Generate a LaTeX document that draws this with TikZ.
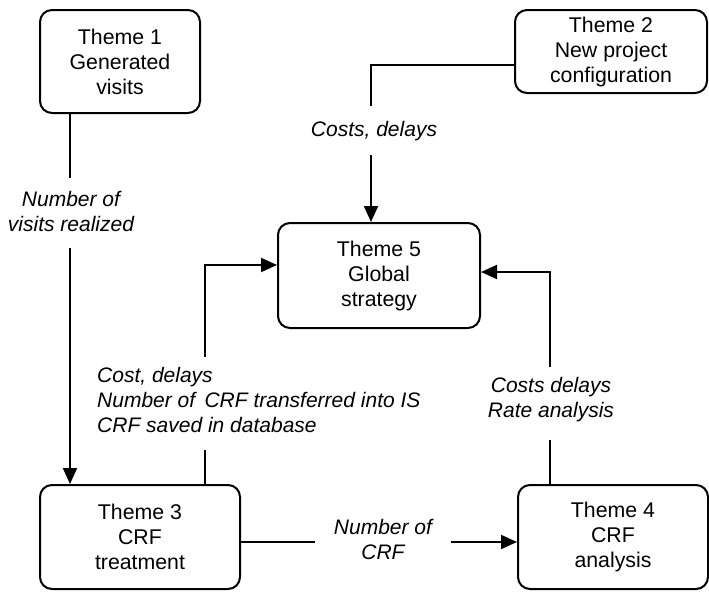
\documentclass[tikz,border=0pt]{standalone}
\usepackage{fontspec}
\setmainfont{Liberation Sans}
\usetikzlibrary{arrows.meta,calc}
\tikzset{
  theme/.style={draw, line width=2pt, rounded corners=12pt, fill=white,
    align=center, inner sep=0pt, font=\fontsize{21.3}{25}\selectfont},
  flow/.style={line width=2pt},
  flowarrow/.style={flow, -{Triangle[length=16pt,width=14pt]}},
  lbl/.style={align=center, inner sep=0pt, font=\fontsize{21}{25}\selectfont\itshape}
}
\begin{document}
\begin{tikzpicture}[x=1pt,y=-1pt]
\useasboundingbox (0,0) rectangle (709,592);

% themes
\node[theme, minimum width=160pt, minimum height=103pt] (T1) at (120,61.5)
  {Theme 1\\Generated\\visits};
\node[theme, minimum width=192pt, minimum height=83pt] (T2) at (611,51.5)
  {Theme 2\\New project\\configuration};
\node[theme, minimum width=202pt, minimum height=105pt] (T5) at (379,275.5)
  {Theme 5\\Global\\strategy};
\node[theme, minimum width=200pt, minimum height=104pt] (T3) at (140,537)
  {Theme 3\\CRF\\treatment};
\node[theme, minimum width=190pt, minimum height=104pt] (T4) at (613,537)
  {Theme 4\\CRF\\analysis};

% labels
\node[lbl] (L1) at (71,211) {Number of\\visits realized};
\node[lbl] (L2) at (374,131) {Costs, delays};
\node[lbl, align=left, anchor=west] (L3) at (97,400)
  {Cost, delays\\Number of\, CRF transferred into IS\\CRF saved in database};
\node[lbl] (L4) at (551,400) {Costs delays\\Rate analysis};
\node[lbl] (L5) at (383,539) {Number of\\CRF};

% break points of the connectors around their labels
\coordinate (a1) at (70,178);
\coordinate (a2) at (70,248);
\coordinate (b0) at (371,65);
\coordinate (b1) at (371,106);
\coordinate (b2) at (371,155);
\coordinate (c1) at (205,450);
\coordinate (c2) at (205,357);
\coordinate (c3) at (205,265);
\coordinate (d1) at (550,440);
\coordinate (d2) at (550,367);
\coordinate (d3) at (550,272);
\coordinate (e1) at (315,542);
\coordinate (e2) at (451,542);

% Theme 1 -> Theme 3
\draw[flow] (T1.south -| a1) -- (a1);
\draw[flowarrow] (a2) -- (T3.north -| a2);
% Theme 2 -> Theme 5
\draw[flow] (T2.west |- b0) -- (b0) -- (b1);
\draw[flowarrow] (b2) -- (T5.north -| b2);
% Theme 3 -> Theme 5
\draw[flow] (T3.north -| c1) -- (c1);
\draw[flowarrow] (c2) -- (c3) -- (T5.west |- c3);
% Theme 4 -> Theme 5
\draw[flow] (T4.north -| d1) -- (d1);
\draw[flowarrow] (d2) -- (d3) -- (T5.east |- d3);
% Theme 3 -> Theme 4
\draw[flow] (T3.east |- e1) -- (e1);
\draw[flowarrow] (e2) -- (T4.west |- e2);
\end{tikzpicture}
\end{document}
